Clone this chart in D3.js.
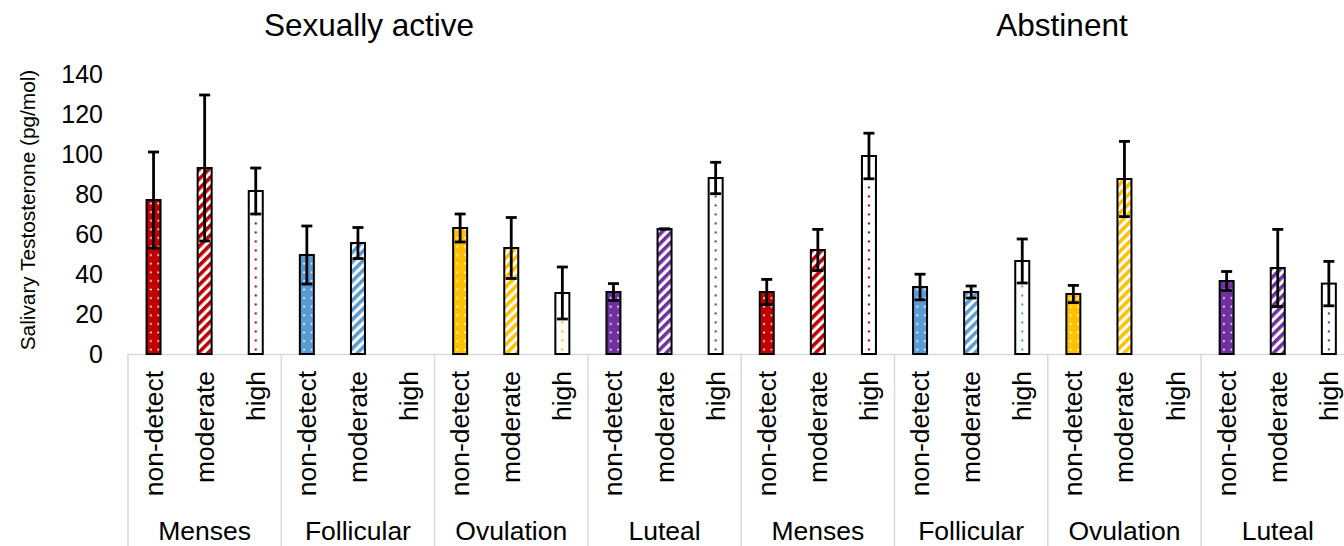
<!DOCTYPE html>
<html>
<head>
<meta charset="utf-8">
<script src="https://cdn.jsdelivr.net/npm/d3@7"></script>
<style>
  html, body { margin: 0; padding: 0; background: #fff; }
  svg { display: block; font-family: "Liberation Sans", Arial, sans-serif; }
</style>
</head>
<body>
<svg id="chart" width="1344" height="546"></svg>
<script>
// Salivary testosterone by cycle phase and level, for two conditions
const conditions = ["Sexually active", "Abstinent"];
const phases = ["Menses", "Follicular", "Ovulation", "Luteal"];
const levels = ["non-detect", "moderate", "high"];
const phaseColors = ["#C00000", "#5B9BD5", "#FFC000", "#7030A0"];

// means and error half-widths, ordered phase by phase, level by level
const sexuallyActiveMeans  = [77, 93, 81.5,   49.5, 55.5, null,  63, 53, 30.5,   31, 62.5, 88];
const sexuallyActiveErrors = [24, 36.5, 11.5, 14.5, 7.75, null,  7, 15.25, 13,   4.2, 0, 7.85];
const abstinentMeans       = [31, 52, 99,     33.5, 31, 46.5,    30, 87.5, null, 36.5, 43, 35.2];
const abstinentErrors      = [6.3, 10.3, 11.4, 6.4, 3, 11,       4.3, 18.8, null, 4.75, 19.3, 11.1];
const yTicks = [0, 20, 40, 60, 80, 100, 120, 140];

const seriesByCondition = [
  { means: sexuallyActiveMeans, errors: sexuallyActiveErrors },
  { means: abstinentMeans, errors: abstinentErrors }
];

// flatten into one row per category on the x axis
const rows = [];
conditions.forEach((c, ci) => {
  phases.forEach((p, pi) => {
    levels.forEach((l, li) => {
      const k = pi * 3 + li;
      rows.push({
        key: `${ci}-${pi}-${li}`,
        condition: c, phase: p, level: l, pi, li, ci,
        mean: seriesByCondition[ci].means[k],
        err: seriesByCondition[ci].errors[k]
      });
    });
  });
});

const svg = d3.select("#chart");
const left = 128, plotTop = 74, baseY = 354;
const catW = 51.1;

const x = d3.scaleBand()
  .domain(rows.map(d => d.key))
  .range([left, left + rows.length * catW])
  .paddingInner(0).paddingOuter(0);

const y = d3.scaleLinear().domain([0, 140]).range([baseY, plotTop]);

const barW = 14;
const capW = 11;
const barX = d => x(d.key) + x.bandwidth() / 2 - barW / 2;

// per-bar fill patterns, anchored to each bar so dots sit evenly inside it
const defs = svg.append("defs");
const drawn = rows.filter(d => d.mean != null);

drawn.forEach(d => {
  const color = phaseColors[d.pi];
  const id = `fill-${d.key}`;
  if (d.li === 0) {
    // solid fill with small white dots
    const p = defs.append("pattern").attr("id", id)
      .attr("patternUnits", "userSpaceOnUse")
      .attr("x", barX(d) + 0.5).attr("y", baseY)
      .attr("width", (barW + 1) / 2).attr("height", 8.6);
    p.append("rect").attr("width", 20).attr("height", 20).attr("fill", color);
    p.append("circle").attr("cx", (barW + 1) / 4).attr("cy", 4.3).attr("r", 1.05).attr("fill", "#fff");
  } else if (d.li === 1) {
    // wide upward diagonal stripes
    const p = defs.append("pattern").attr("id", id)
      .attr("patternUnits", "userSpaceOnUse")
      .attr("x", barX(d)).attr("y", baseY)
      .attr("width", 6.8).attr("height", 6.8)
      .attr("patternTransform", "rotate(45)");
    p.append("rect").attr("width", 6.8).attr("height", 6.8).attr("fill", "#fff");
    p.append("rect").attr("width", 3.6).attr("height", 6.8).attr("fill", color);
  } else {
    // white fill with sparse coloured dots
    const p = defs.append("pattern").attr("id", id)
      .attr("patternUnits", "userSpaceOnUse")
      .attr("x", barX(d)).attr("y", baseY)
      .attr("width", barW).attr("height", 9);
    p.append("rect").attr("width", barW).attr("height", 9).attr("fill", "#fff");
    p.append("circle").attr("cx", barW / 2).attr("cy", 4.5).attr("r", 1.15).attr("fill", color);
  }
});

// category axis frame: baseline and group separators
const axisColor = "#d9d9d9";
const boundaries = d3.range(0, rows.length + 1, 3).map(i => left + i * x.bandwidth());

svg.append("line")
  .attr("x1", left).attr("x2", boundaries[boundaries.length - 1])
  .attr("y1", baseY + 0.5).attr("y2", baseY + 0.5)
  .attr("stroke", axisColor).attr("stroke-width", 1.5);

svg.append("g").selectAll("line").data(boundaries).join("line")
  .attr("x1", d => d).attr("x2", d => d)
  .attr("y1", baseY).attr("y2", 546)
  .attr("stroke", axisColor).attr("stroke-width", 1.5);

// bars
svg.append("g").selectAll("rect").data(drawn).join("rect")
  .attr("x", barX)
  .attr("y", d => y(d.mean))
  .attr("width", barW)
  .attr("height", d => y(0) - y(d.mean))
  .attr("fill", d => `url(#fill-${d.key})`)
  .attr("stroke", "#000")
  .attr("stroke-width", 2);

// error bars
const eb = svg.append("g").attr("stroke", "#000").attr("stroke-width", 2.8);
drawn.forEach(d => {
  const cx = x(d.key) + x.bandwidth() / 2;
  const hi = y(d.mean + d.err), lo = y(d.mean - d.err);
  eb.append("line").attr("x1", cx).attr("x2", cx).attr("y1", hi).attr("y2", lo);
  eb.append("line").attr("x1", cx - capW / 2).attr("x2", cx + capW / 2).attr("y1", hi).attr("y2", hi);
  eb.append("line").attr("x1", cx - capW / 2).attr("x2", cx + capW / 2).attr("y1", lo).attr("y2", lo);
});

// value axis labels (no axis line or tick marks)
const yAxis = svg.append("g")
  .attr("transform", `translate(${left - 25},0)`)
  .call(d3.axisLeft(y).tickValues(yTicks).tickSize(0).tickPadding(0));
yAxis.select(".domain").remove();
yAxis.selectAll("text")
  .attr("font-size", 25).attr("font-family", "Liberation Sans, Arial, sans-serif")
  .attr("fill", "#000").attr("dy", "0.35em");

// level labels, rotated
svg.append("g").selectAll("text").data(rows).join("text")
  .attr("transform", d => `translate(${x(d.key) + x.bandwidth() / 2 + 9},371) rotate(-90)`)
  .attr("text-anchor", "end")
  .attr("font-size", 26.5)
  .attr("fill", "#000")
  .text(d => d.level);

// phase labels
const groups = d3.range(0, rows.length, 3).map(i => ({
  name: rows[i].phase, cx: left + (i + 1.5) * x.bandwidth()
}));
svg.append("g").selectAll("text").data(groups).join("text")
  .attr("x", d => d.cx).attr("y", 540)
  .attr("text-anchor", "middle")
  .attr("font-size", 26.5)
  .attr("fill", "#000")
  .text(d => d.name);

// condition headings
const headingX = [369, 1062];
svg.append("g").selectAll("text").data(conditions).join("text")
  .attr("x", (d, i) => headingX[i]).attr("y", 36)
  .attr("text-anchor", "middle")
  .attr("font-size", 31.5)
  .attr("fill", "#000")
  .text(d => d);

// value axis title
svg.append("text")
  .attr("transform", "translate(28,210) rotate(-90)")
  .attr("text-anchor", "middle")
  .attr("dy", "0.35em")
  .attr("font-size", 20.8)
  .attr("fill", "#000")
  .text("Salivary Testosterone (pg/mol)");
</script>
</body>
</html>
